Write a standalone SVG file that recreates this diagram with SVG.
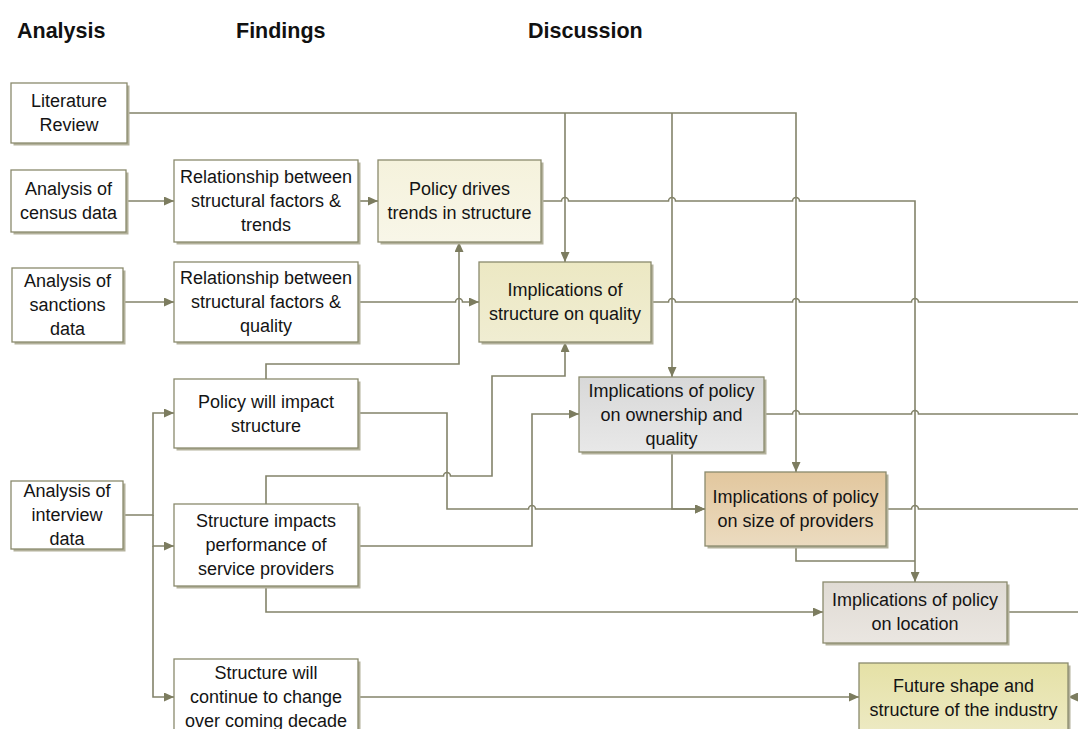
<svg xmlns="http://www.w3.org/2000/svg" width="1078" height="729" viewBox="0 0 1078 729">
  <defs>
    <style>
      .hdr { font-family: "Liberation Sans", Arial, sans-serif; font-size: 21.5px; font-weight: bold; fill: #111; }
      .lbl { font-family: "Liberation Sans", Arial, sans-serif; font-size: 18px; fill: #141414; text-anchor: middle; }
      .box { stroke: #8A8A6D; stroke-width: 1.3; }
      .shadow { fill: #B3B19B; }
      .white { fill: #FFFFFF; }
      #connectors path { fill: none; stroke: #83836A; stroke-width: 1.6; }
      #connectors path.arrow { marker-end: url(#arr); }
    </style>
    <marker id="arr" markerWidth="10" markerHeight="9" refX="10" refY="4.5" orient="auto" markerUnits="userSpaceOnUse">
      <path d="M0,0 L10,4.5 L0,9 z" fill="#7C7C5F"/>
    </marker>
    <linearGradient id="gCream" x1="0" y1="0" x2="0" y2="1">
      <stop offset="0" stop-color="#F5F2DC"/>
      <stop offset="1" stop-color="#F8F6E8"/>
    </linearGradient>
    <linearGradient id="gKhaki" x1="0" y1="0" x2="0" y2="1">
      <stop offset="0" stop-color="#ECE8C3"/>
      <stop offset="1" stop-color="#F0EDD2"/>
    </linearGradient>
    <linearGradient id="gGrey" x1="0" y1="0" x2="0" y2="1">
      <stop offset="0" stop-color="#D8D8D8"/>
      <stop offset="1" stop-color="#E8E8E8"/>
    </linearGradient>
    <linearGradient id="gTan" x1="0" y1="0" x2="0" y2="1">
      <stop offset="0" stop-color="#E2C79E"/>
      <stop offset="1" stop-color="#EBDBC0"/>
    </linearGradient>
    <linearGradient id="gStone" x1="0" y1="0" x2="0" y2="1">
      <stop offset="0" stop-color="#E0DBD4"/>
      <stop offset="1" stop-color="#EAE6E1"/>
    </linearGradient>
    <linearGradient id="gYellow" x1="0" y1="0" x2="0" y2="1">
      <stop offset="0" stop-color="#E5E1A6"/>
      <stop offset="1" stop-color="#EDEAC4"/>
    </linearGradient>
  </defs>

  <rect width="1078" height="729" fill="#FFFFFF"/>

  <!-- column headings -->
  <g id="headings">
    <text class="hdr" x="17" y="38">Analysis</text>
    <text class="hdr" x="236" y="38">Findings</text>
    <text class="hdr" x="528" y="38">Discussion</text>
  </g>

  <!-- connectors (hops drawn as small arcs where lines cross) -->
  <g id="connectors">
    <!-- literature review feeds -->
    <path class="arrow" d="M127,113 H796 V472"/>
    <path class="arrow" d="M565,113 V262"/>
    <path class="arrow" d="M672,113 V377"/>
    <!-- census / sanctions chains -->
    <path class="arrow" d="M126,201 H174"/>
    <path class="arrow" d="M358,201 H378"/>
    <path class="arrow" d="M123,302 H174"/>
    <path class="arrow" d="M358,302 H455.5 a3.5,3.5 0 0 1 7,0 H479"/>
    <!-- policy drives trends -> location -->
    <path class="arrow" d="M541,201 H561.5 a3.5,3.5 0 0 1 7,0 H668.5 a3.5,3.5 0 0 1 7,0 H792.5 a3.5,3.5 0 0 1 7,0 H915 V582"/>
    <!-- structure on quality -> onwards -->
    <path d="M651,302 H668.5 a3.5,3.5 0 0 1 7,0 H792.5 a3.5,3.5 0 0 1 7,0 H911.5 a3.5,3.5 0 0 1 7,0 H1078"/>
    <!-- interview data fan-out -->
    <path class="arrow" d="M123,515 H153 V413 H174"/>
    <path class="arrow" d="M153,515 V546 H174"/>
    <path class="arrow" d="M153,546 V697 H174"/>
    <!-- policy will impact structure -->
    <path class="arrow" d="M266,379 V364 H459 V242"/>
    <path class="arrow" d="M358,413 H447 V509 H528.5 a3.5,3.5 0 0 1 7,0 H705"/>
    <!-- structure impacts performance -->
    <path class="arrow" d="M266,504 V476 H443.5 a3.5,3.5 0 0 1 7,0 H492 V376 H565 V342"/>
    <path class="arrow" d="M358,546 H532 V414 H579"/>
    <path class="arrow" d="M266,586 V612 H823"/>
    <!-- structure will continue to change -->
    <path class="arrow" d="M358,697 H859"/>
    <!-- ownership and quality -->
    <path class="arrow" d="M672,452 V509 H705"/>
    <path d="M764,414 H792.5 a3.5,3.5 0 0 1 7,0 H911.5 a3.5,3.5 0 0 1 7,0 H1078"/>
    <!-- size of providers -->
    <path d="M796,546 V561 H915"/>
    <path d="M886,509 H911.5 a3.5,3.5 0 0 1 7,0 H1078"/>
    <!-- location -->
    <path d="M1007,612 H1078"/>
    <!-- incoming to future shape -->
    <path class="arrow" d="M1082,697 H1068"/>
  </g>

  <!-- analysis column -->
  <g id="literature-review">
    <rect class="shadow" x="13.5" y="85.5" width="116" height="60"/>
    <rect class="box white" x="11" y="83" width="116" height="60"/>
    <text class="lbl"><tspan x="69" y="107">Literature</tspan><tspan x="69" y="131">Review</tspan></text>
  </g>
  <g id="census-data">
    <rect class="shadow" x="13.5" y="172.5" width="115" height="62"/>
    <rect class="box white" x="11" y="170" width="115" height="62"/>
    <text class="lbl"><tspan x="68.5" y="195">Analysis of</tspan><tspan x="68.5" y="219">census data</tspan></text>
  </g>
  <g id="sanctions-data">
    <rect class="shadow" x="14.5" y="270.5" width="111" height="74"/>
    <rect class="box white" x="12" y="268" width="111" height="74"/>
    <text class="lbl"><tspan x="67.5" y="287">Analysis of</tspan><tspan x="67.5" y="311">sanctions</tspan><tspan x="67.5" y="335">data</tspan></text>
  </g>
  <g id="interview-data">
    <rect class="shadow" x="13.5" y="483.5" width="112" height="68"/>
    <rect class="box white" x="11" y="481" width="112" height="68"/>
    <text class="lbl"><tspan x="67" y="497">Analysis of</tspan><tspan x="67" y="521">interview</tspan><tspan x="67" y="545">data</tspan></text>
  </g>

  <!-- findings column -->
  <g id="rel-trends">
    <rect class="shadow" x="176.5" y="162.5" width="184" height="82"/>
    <rect class="box white" x="174" y="160" width="184" height="82"/>
    <text class="lbl"><tspan x="266" y="183">Relationship between</tspan><tspan x="266" y="207">structural factors &amp;</tspan><tspan x="266" y="231">trends</tspan></text>
  </g>
  <g id="rel-quality">
    <rect class="shadow" x="176.5" y="264.5" width="184" height="80"/>
    <rect class="box white" x="174" y="262" width="184" height="80"/>
    <text class="lbl"><tspan x="266" y="284">Relationship between</tspan><tspan x="266" y="308">structural factors &amp;</tspan><tspan x="266" y="332">quality</tspan></text>
  </g>
  <g id="policy-impact">
    <rect class="shadow" x="176.5" y="381.5" width="184" height="69"/>
    <rect class="box white" x="174" y="379" width="184" height="69"/>
    <text class="lbl"><tspan x="266" y="408">Policy will impact</tspan><tspan x="266" y="432">structure</tspan></text>
  </g>
  <g id="structure-performance">
    <rect class="shadow" x="176.5" y="506.5" width="184" height="82"/>
    <rect class="box white" x="174" y="504" width="184" height="82"/>
    <text class="lbl"><tspan x="266" y="527">Structure impacts</tspan><tspan x="266" y="551">performance of</tspan><tspan x="266" y="575">service providers</tspan></text>
  </g>
  <g id="structure-change">
    <rect class="shadow" x="176.5" y="661.5" width="184" height="82"/>
    <rect class="box white" x="174" y="659" width="184" height="82"/>
    <text class="lbl"><tspan x="266" y="679">Structure will</tspan><tspan x="266" y="703">continue to change</tspan><tspan x="266" y="727">over coming decade</tspan></text>
  </g>

  <!-- discussion column -->
  <g id="policy-drives">
    <rect class="shadow" x="380.5" y="162.5" width="163" height="82"/>
    <rect class="box" fill="url(#gCream)" x="378" y="160" width="163" height="82"/>
    <text class="lbl"><tspan x="459.5" y="195">Policy drives</tspan><tspan x="459.5" y="219">trends in structure</tspan></text>
  </g>
  <g id="structure-quality">
    <rect class="shadow" x="481.5" y="264.5" width="172" height="80"/>
    <rect class="box" fill="url(#gKhaki)" x="479" y="262" width="172" height="80"/>
    <text class="lbl"><tspan x="565" y="296">Implications of</tspan><tspan x="565" y="320">structure on quality</tspan></text>
  </g>
  <g id="ownership-quality">
    <rect class="shadow" x="581.5" y="379.5" width="185" height="75"/>
    <rect class="box" fill="url(#gGrey)" x="579" y="377" width="185" height="75"/>
    <text class="lbl"><tspan x="671.5" y="397">Implications of policy</tspan><tspan x="671.5" y="421">on ownership and</tspan><tspan x="671.5" y="445">quality</tspan></text>
  </g>
  <g id="size-providers">
    <rect class="shadow" x="707.5" y="474.5" width="181" height="74"/>
    <rect class="box" fill="url(#gTan)" x="705" y="472" width="181" height="74"/>
    <text class="lbl"><tspan x="795.5" y="503">Implications of policy</tspan><tspan x="795.5" y="527">on size of providers</tspan></text>
  </g>
  <g id="location">
    <rect class="shadow" x="825.5" y="584.5" width="184" height="61"/>
    <rect class="box" fill="url(#gStone)" x="823" y="582" width="184" height="61"/>
    <text class="lbl"><tspan x="915" y="606">Implications of policy</tspan><tspan x="915" y="630">on location</tspan></text>
  </g>
  <g id="future-shape">
    <rect class="shadow" x="861.5" y="665.5" width="209" height="72"/>
    <rect class="box" fill="url(#gYellow)" x="859" y="663" width="209" height="72"/>
    <text class="lbl"><tspan x="963.5" y="692">Future shape and</tspan><tspan x="963.5" y="716">structure of the industry</tspan></text>
  </g>
</svg>
